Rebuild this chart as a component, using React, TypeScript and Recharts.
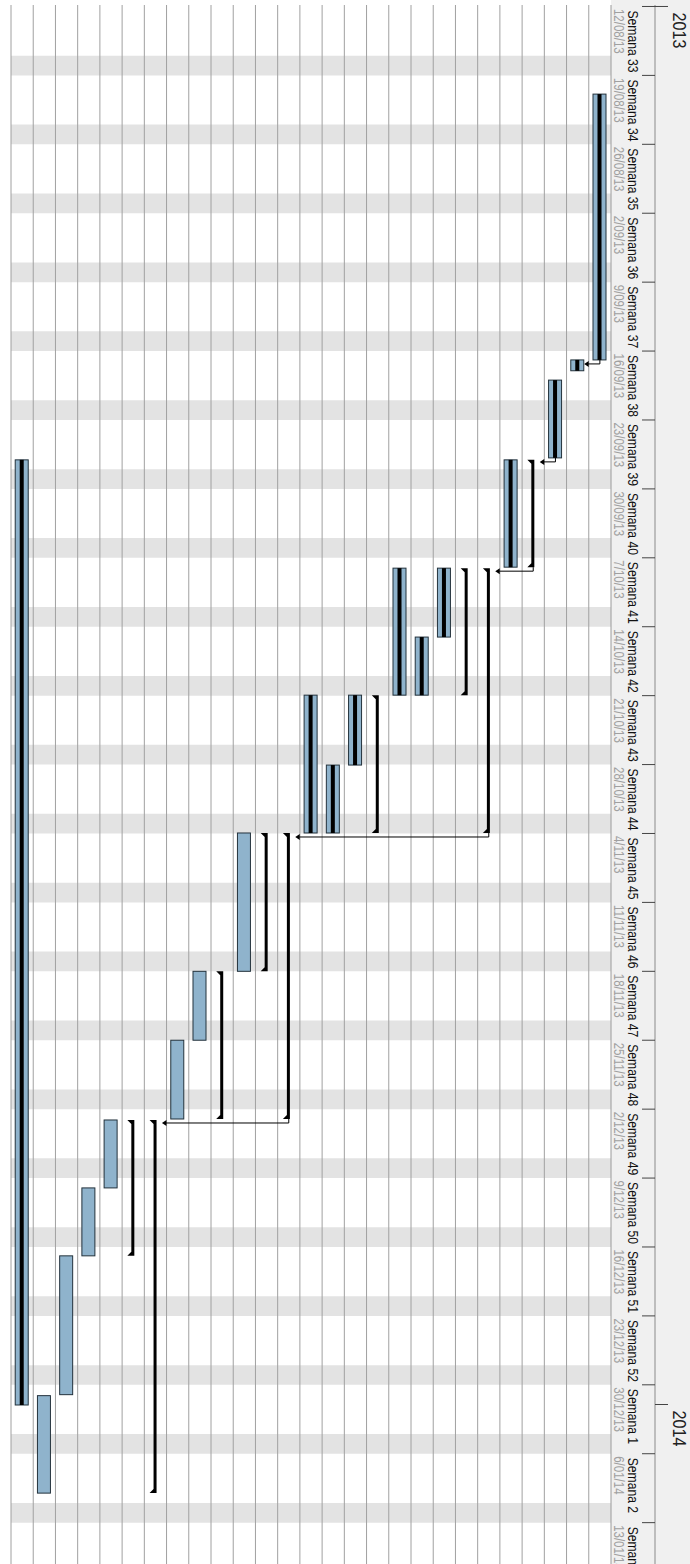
import React from 'react';
import { BarChart, Bar, XAxis, YAxis, ReferenceArea, ReferenceLine } from 'recharts';

// Time values are days counted from Monday 12/08/2013 (day 0).
const rowIds = ['T1','T2','T3','T4','T5','T6','T7','T8','T9','T10','T11','T12','T13','T14','T15','T16','T17','T18','T19','T20','T21','T22','T23','T24','T25','T26','T27'];
const taskKinds = ['task','task','task','summary','task','summary','summary','task','task','task','summary','task','task','task','summary','summary','task','summary','task','task','summary','summary','task','task','task','task','task'];
const taskStart = [8.9, 35.9, 37.95, 46.05, 46.05, 57.05, 57.05, 57.05, 64.05, 57.05, 69.95, 69.95, 77.05, 69.95, 83.95, 83.95, 83.95, 98.0, 98.0, 105.0, 113.1, 113.1, 113.1, 120.0, 126.9, 141.1, 46.05];
const taskEnd = [35.9, 37.0, 45.85, 56.95, 56.95, 83.95, 69.95, 64.05, 69.95, 69.95, 83.95, 77.05, 83.95, 83.95, 113.0, 98.0, 98.0, 113.0, 105.0, 113.0, 151.0, 126.9, 120.0, 126.9, 141.0, 151.0, 142.05];
const taskDone = [1, 1, 1, 0, 1, 0, 0, 1, 1, 1, 0, 1, 1, 1, 0, 0, 0, 0, 0, 0, 0, 0, 0, 0, 0, 0, 1];

const linkFrom = [0, 2, 3, 5, 14];
const linkTo = [1, 3, 5, 14, 20];

const weekStartDays = [0, 7, 14, 21, 28, 35, 42, 49, 56, 63, 70, 77, 84, 91, 98, 105, 112, 119, 126, 133, 140, 147, 154];
const weekLabels = ['Semana 33','Semana 34','Semana 35','Semana 36','Semana 37','Semana 38','Semana 39','Semana 40','Semana 41','Semana 42','Semana 43','Semana 44','Semana 45','Semana 46','Semana 47','Semana 48','Semana 49','Semana 50','Semana 51','Semana 52','Semana 1','Semana 2','Semana 3'];
const weekDates = ['12/08/13','19/08/13','26/08/13','2/09/13','9/09/13','16/09/13','23/09/13','30/09/13','7/10/13','14/10/13','21/10/13','28/10/13','4/11/13','11/11/13','18/11/13','25/11/13','2/12/13','9/12/13','16/12/13','23/12/13','30/12/13','6/01/14','13/01/14'];
const yearStartDays = [0, 142];
const yearLabels = ['2013', '2014'];

const X_DOMAIN: [number, number] = [-0.15, 158.2];
const FONT = '"Liberation Sans", Arial, sans-serif';

const rows = rowIds.map((id, i) => ({
  id,
  range: [taskStart[i], taskEnd[i]],
  kind: taskKinds[i],
  done: taskDone[i],
}));

const WeekTick = (props: any) => {
  const { x, y, payload } = props;
  const i = weekStartDays.indexOf(payload.value);
  if (i < 0) return null;
  return (
    <g>
      <line x1={x} x2={x} y1={y - 44} y2={y - 31} stroke="#444" strokeWidth={1} />
      <text transform={`translate(${x + 4},${y - 17}) scale(0.81,1)`} fontSize={15} fill="#111" fontFamily={FONT}>
        {weekLabels[i]}
      </text>
      <text transform={`translate(${x + 2.5},${y - 3}) scale(0.82,1)`} fontSize={14} fill="#a0a0a0" fontFamily={FONT}>
        {weekDates[i]}
      </text>
    </g>
  );
};

const YearTick = (props: any) => {
  const { x, y, payload } = props;
  const i = yearStartDays.indexOf(payload.value);
  if (i < 0) return null;
  return (
    <g>
      <line x1={x} x2={x} y1={y - 13} y2={y} stroke="#444" strokeWidth={1} />
      <text transform={`translate(${x + 6},${y - 17.5}) scale(0.85,1)`} fontSize={19} fill="#222" fontFamily={FONT}>
        {yearLabels[i]}
      </text>
    </g>
  );
};

const TaskShape = (props: any) => {
  const { x, y, width, height, payload } = props;
  if (width == null || isNaN(x)) return null;
  const cy = y + height / 2;
  if (payload.kind === 'summary') {
    const d = `M${x},${cy - 1.5} L${x + width},${cy - 1.5} L${x + width},${cy + 5.5} L${x + width - 4},${cy + 1.5} L${x + 4},${cy + 1.5} L${x},${cy + 5.5} Z`;
    return <path d={d} fill="#000" />;
  }
  return (
    <g>
      <rect x={x} y={y} width={width} height={height} fill="#8fb3cc" stroke="#23323c" strokeWidth={1} />
      {payload.done ? <rect x={x} y={cy - 2} width={width} height={4} fill="#000" /> : null}
    </g>
  );
};

const LinkShape = (p: any) => {
  const { x1, y1, y2 } = p;
  if (x1 == null || isNaN(x1)) return null;
  const lx = x1 + 4;
  const tip = y2 - 6.5;
  return (
    <g>
      <path d={`M${x1},${y1} H${lx} V${tip - 4}`} stroke="#000" strokeWidth={1} fill="none" />
      <path d={`M${lx - 3},${tip - 4.5} L${lx + 3},${tip - 4.5} L${lx},${tip} Z`} fill="#000" />
    </g>
  );
};

export default function App() {
  return (
    <div style={{ position: 'absolute', left: 0, top: 0, width: 690, height: 1564, overflow: 'hidden', background: '#fff' }}>
      <div
        style={{
          position: 'absolute',
          left: 0,
          top: 0,
          width: 1564,
          height: 690,
          transformOrigin: '0 0',
          transform: 'translateX(690px) rotate(90deg)',
          background: 'linear-gradient(to bottom, #f0f0f0 0px, #f0f0f0 79px, #ffffff 79px)',
        }}
      >
        <BarChart
          width={1564}
          height={690}
          data={rows}
          layout="vertical"
          margin={{ top: 0, right: 0, bottom: 11, left: 5 }}
          barSize={13}
        >
          <XAxis
            xAxisId="w"
            type="number"
            orientation="top"
            domain={X_DOMAIN}
            allowDataOverflow
            ticks={weekStartDays}
            interval={0}
            height={44}
            tickSize={0}
            tickMargin={0}
            tickLine={false}
            axisLine={{ stroke: '#9a9a9a' }}
            tick={<WeekTick />}
          />
          <XAxis
            xAxisId="y"
            type="number"
            orientation="top"
            domain={X_DOMAIN}
            allowDataOverflow
            ticks={yearStartDays}
            interval={0}
            height={35}
            tickSize={0}
            tickMargin={0}
            tickLine={false}
            axisLine={{ stroke: '#8a8a8a' }}
            tick={<YearTick />}
          />
          <YAxis type="category" dataKey="id" width={0} tick={false} tickLine={false} axisLine={{ stroke: '#9a9a9a' }} />
          {weekStartDays.map((d) => (
            <ReferenceArea key={`we${d}`} xAxisId="w" x1={d + 5} x2={d + 7} fill="#e3e3e3" fillOpacity={1} stroke="none" />
          ))}
          {rowIds.map((id) => (
            <ReferenceLine key={`sep${id}`} xAxisId="w" y={id} position="end" stroke="#a0a0a0" strokeWidth={1} />
          ))}
          <Bar xAxisId="w" dataKey="range" shape={TaskShape} isAnimationActive={false} />
          {linkFrom.map((f, k) => (
            <ReferenceLine
              key={`lnk${k}`}
              xAxisId="w"
              segment={[
                { x: taskEnd[f], y: rowIds[f] },
                { x: taskEnd[f], y: rowIds[linkTo[k]] },
              ]}
              shape={LinkShape}
            />
          ))}
        </BarChart>
      </div>
    </div>
  );
}
